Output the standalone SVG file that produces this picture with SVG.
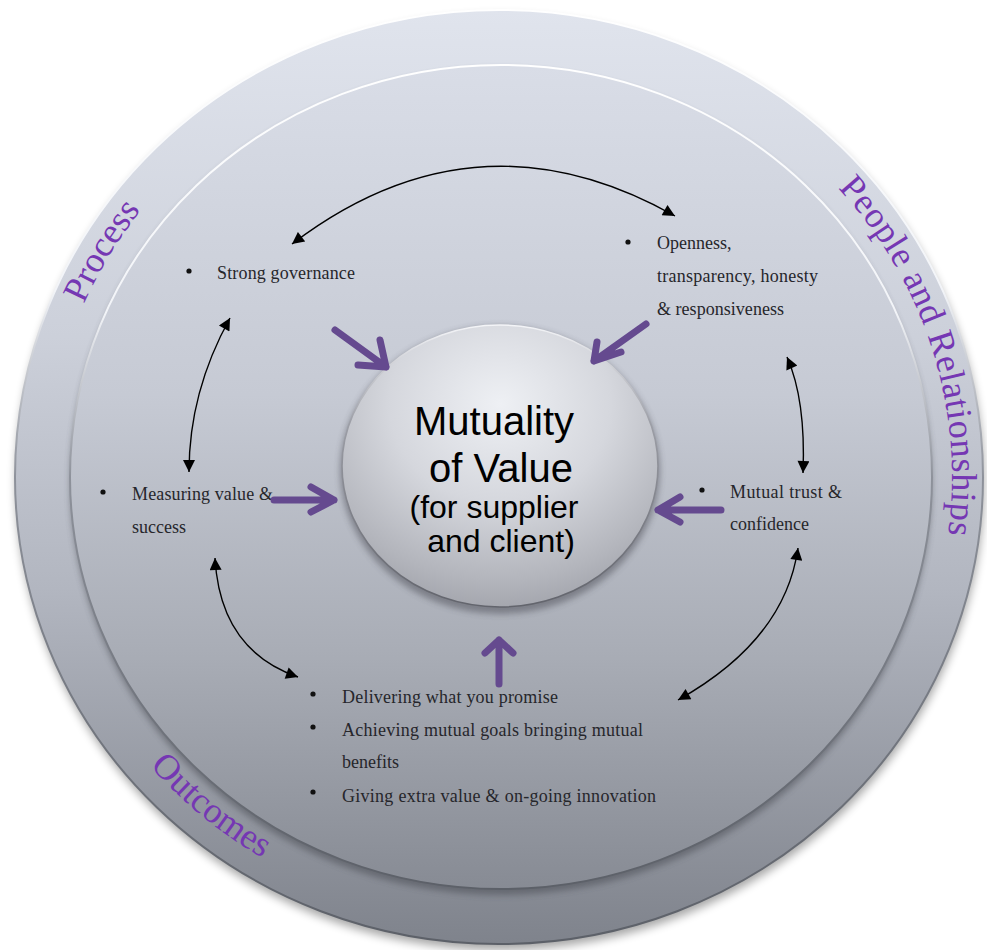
<svg xmlns="http://www.w3.org/2000/svg" width="987" height="950" viewBox="0 0 987 950">
  <defs>
    <linearGradient id="outerFill" x1="0" y1="0" x2="0" y2="1">
      <stop offset="0" stop-color="#e0e4ed"/>
      <stop offset="0.35" stop-color="#ccd0da"/>
      <stop offset="0.62" stop-color="#b2b6c0"/>
      <stop offset="1" stop-color="#7f838c"/>
    </linearGradient>
    <linearGradient id="innerFill" x1="0" y1="0" x2="0" y2="1">
      <stop offset="0" stop-color="#d9dde7"/>
      <stop offset="0.4" stop-color="#c6cad4"/>
      <stop offset="0.72" stop-color="#a8acb5"/>
      <stop offset="1" stop-color="#878b94"/>
    </linearGradient>
    <linearGradient id="rimStroke" x1="0" y1="0" x2="0" y2="1">
      <stop offset="0" stop-color="#ffffff"/>
      <stop offset="0.3" stop-color="#f2f4f8"/>
      <stop offset="0.5" stop-color="#8e929b"/>
      <stop offset="1" stop-color="#5c6068"/>
    </linearGradient>
    <radialGradient id="hubFill" cx="0.5" cy="0.28" r="0.78">
      <stop offset="0" stop-color="#eef0f4"/>
      <stop offset="0.45" stop-color="#d5d7dd"/>
      <stop offset="0.8" stop-color="#b3b5bc"/>
      <stop offset="1" stop-color="#9c9ea6"/>
    </radialGradient>
    <linearGradient id="hubStroke" x1="0" y1="0" x2="0" y2="1">
      <stop offset="0" stop-color="#f4f5f8"/>
      <stop offset="0.35" stop-color="#9c9ea6"/>
      <stop offset="1" stop-color="#62646c"/>
    </linearGradient>
    <filter id="softShadow" x="-10%" y="-10%" width="120%" height="120%">
      <feGaussianBlur stdDeviation="5"/>
    </filter>
    <filter id="tightShadow" x="-10%" y="-10%" width="120%" height="120%">
      <feGaussianBlur stdDeviation="3"/>
    </filter>
    <marker id="tri" viewBox="0 0 10 10" refX="10" refY="5" markerUnits="userSpaceOnUse" markerWidth="15" markerHeight="12" orient="auto-start-reverse">
      <path d="M0,0 L10,5 L0,10 z" fill="#000"/>
    </marker>
    <path id="arcProcess" d="M 84 304 A 454 438 0 0 1 309 80"/>
    <path id="arcPeople" d="M 838 188 A 452 436 0 0 1 925 626"/>
    <path id="arcOutcomes" d="M 150 766 A 461 445 0 0 0 420 915"/>
  </defs>
  <style>
    .body { font-family: "Liberation Serif", "Times New Roman", serif; font-size: 18px; fill: #26262b; }
    .hub { font-family: "Liberation Sans", Arial, sans-serif; fill: #000; text-anchor: middle; }
    .ring-label { font-family: "Liberation Serif", "Times New Roman", serif; font-size: 36px; fill: #7537b3; }
    .dot { fill: #111; }
    .link { fill: none; stroke: #000; stroke-width: 1.4; marker-start: url(#tri); marker-end: url(#tri); }
    .push { fill: none; stroke: #654a8f; stroke-width: 7; stroke-linecap: round; stroke-linejoin: round; }
  </style>

  <!-- layered discs -->
  <g id="rings">
    <ellipse cx="500" cy="483" rx="484" ry="467" fill="#000" opacity="0.35" filter="url(#softShadow)"/>
    <ellipse id="outer-disc" cx="499" cy="477" rx="484" ry="467" fill="url(#outerFill)" stroke="url(#rimStroke)" stroke-width="2"/>
    <ellipse cx="501" cy="482" rx="431" ry="413" fill="#3c3f46" opacity="0.45" filter="url(#tightShadow)"/>
    <ellipse id="inner-disc" cx="501" cy="477" rx="431" ry="412" fill="url(#innerFill)" stroke="url(#rimStroke)" stroke-width="2"/>
  </g>

  <!-- ring captions -->
  <g id="ring-labels">
    <text class="ring-label" font-size="37"><textPath href="#arcProcess">Process</textPath></text>
    <text class="ring-label" letter-spacing="0.5"><textPath href="#arcPeople">People and Relationships</textPath></text>
    <text class="ring-label" font-size="35"><textPath href="#arcOutcomes">Outcomes</textPath></text>
  </g>

  <!-- central hub -->
  <g id="hub">
    <ellipse cx="500" cy="470" rx="160" ry="144" fill="#30323a" opacity="0.4" filter="url(#tightShadow)"/>
    <ellipse cx="500" cy="466" rx="158" ry="141" fill="url(#hubFill)" stroke="url(#hubStroke)" stroke-width="1.6"/>
    <text class="hub" x="494" y="435" font-size="40">Mutuality</text>
    <text class="hub" x="501" y="482" font-size="40">of Value</text>
    <text class="hub" x="494" y="518" font-size="32">(for supplier</text>
    <text class="hub" x="501" y="552" font-size="32">and client)</text>
  </g>

  <!-- factor nodes -->
  <g id="node-governance">
    <circle class="dot" cx="189" cy="271" r="2.6"/>
    <text class="body" x="217" y="279" textLength="138">Strong governance</text>
  </g>
  <g id="node-openness">
    <circle class="dot" cx="628" cy="242" r="2.6"/>
    <text class="body" x="657" y="249">Openness,</text>
    <text class="body" x="657" y="282" textLength="161">transparency, honesty</text>
    <text class="body" x="657" y="315" textLength="127">&amp; responsiveness</text>
  </g>
  <g id="node-trust">
    <circle class="dot" cx="702" cy="490" r="2.6"/>
    <text class="body" x="730" y="498" textLength="112">Mutual trust &amp;</text>
    <text class="body" x="730" y="530">confidence</text>
  </g>
  <g id="node-measuring">
    <circle class="dot" cx="103" cy="492" r="2.6"/>
    <text class="body" x="132" y="500" textLength="141">Measuring value &amp;</text>
    <text class="body" x="132" y="533">success</text>
  </g>
  <g id="node-outcomes">
    <circle class="dot" cx="313" cy="694" r="2.6"/>
    <text class="body" x="342" y="703" textLength="216">Delivering what you promise</text>
    <circle class="dot" cx="313" cy="727" r="2.6"/>
    <text class="body" x="342" y="736" textLength="301">Achieving mutual goals bringing mutual</text>
    <text class="body" x="342" y="768">benefits</text>
    <circle class="dot" cx="313" cy="792" r="2.6"/>
    <text class="body" x="342" y="802" textLength="314">Giving extra value &amp; on-going innovation</text>
  </g>

  <!-- connectors -->
  <g id="connectors">
    <path class="link" d="M 292 244 Q 476 104 675 216"/>
    <path class="link" d="M 230 318 Q 189 392 189 472"/>
    <path class="link" d="M 215 558 Q 220 650 298 677"/>
    <path class="link" d="M 798 548 Q 785 640 678 700"/>
    <path class="link" d="M 787 357 Q 806 400 803 473"/>

    <path class="push" d="M 335 330 L 386 367 M 358 365 L 386 367 L 380 340"/>
    <path class="push" d="M 646 324 L 594 361 M 597 342 L 594 361 L 621 352"/>
    <path class="push" d="M 274 500 L 334 500 M 311 487 L 334 500 L 311 512"/>
    <path class="push" d="M 721 510 L 658 510 M 680 497 L 658 510 L 680 522"/>
    <path class="push" d="M 499 684 L 499 640 M 485 653 L 499 640 L 513 653"/>
  </g>
</svg>
